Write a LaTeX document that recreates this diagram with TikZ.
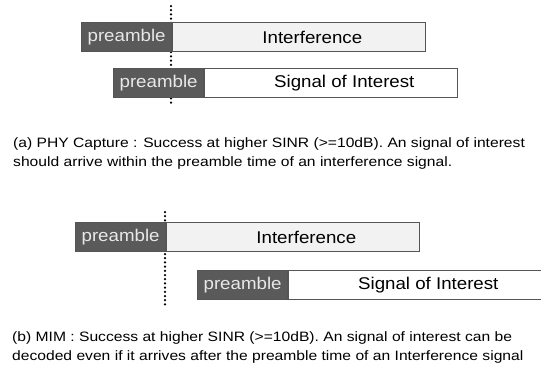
\documentclass[tikz,border=0pt]{standalone}
\usepackage{fontspec}
\setmainfont{Liberation Sans}
\newfontfamily\barsans[FakeStretch=1.1]{Liberation Sans}
\newfontfamily\capsans[FakeStretch=1.15]{Liberation Sans}
\usepackage{tikz}
\usetikzlibrary{positioning}
\definecolor{predark}{RGB}{90,90,90}
\definecolor{pretext}{RGB}{232,232,232}
\definecolor{intfill}{RGB}{242,242,242}
\definecolor{barline}{RGB}{85,85,85}

\tikzset{
  bar/.style={draw=barline, line width=1.2pt, minimum height=29pt, inner sep=0pt,
    font=\barsans\fontsize{17}{19}\selectfont},
  pre/.style={bar, fill=predark, text=pretext, minimum width=90pt},
  intf/.style={bar, fill=intfill, minimum width=253pt},
  soi/.style={bar, fill=white, minimum width=253pt},
  dotline/.style={line width=2.5pt, line cap=round, dash pattern=on 0pt off 4.2pt},
  caption/.style={anchor=north west, align=left, inner sep=0pt,
    font=\capsans\fontsize{13.6}{19}\selectfont}
}
% body text sits a little right of the box centre
\newcommand{\bodytxt}[1]{\hspace*{26pt}#1}

\begin{document}
\begin{tikzpicture}[x=1pt,y=-1pt]
  \useasboundingbox (0,0) rectangle (541,368);

  % capture lines first, so the bars cover them
  \coordinate (capTop) at (171,6);
  \coordinate (capBot) at (171,105);
  \draw[dotline] (capTop) -- (capBot);
  \coordinate (mimTop) at (165,212);
  \coordinate (mimBot) at (165,305);
  \draw[dotline] (mimTop) -- (mimBot);

  % (a) PHY capture
  \node[pre, anchor=north west] (preIa) at (81,22) {preamble};
  \node[intf, right=0pt of preIa] (intfa) {\bodytxt{Interference}};
  \node[pre, anchor=north west] (preSa) at (113,68) {preamble};
  \node[soi, right=0pt of preSa] (soia) {\bodytxt{Signal of Interest}};

  \node[caption] (capa) at (13,137) {(a) PHY Capture : Success at higher SINR (>=10dB). An signal of interest\\
    should arrive within the preamble time of an interference signal.};

  % (b) MIM
  \node[pre, anchor=north west] (preIb) at (75,222) {preamble};
  \node[intf, right=0pt of preIb] (intfb) {\bodytxt{Interference}};
  \node[pre, anchor=north west] (preSb) at (197,270) {preamble};
  \node[soi, right=0pt of preSb] (soib) {\bodytxt{Signal of Interest}};

  \node[caption] (capb) at (12,331) {(b) MIM : Success at higher SINR (>=10dB). An signal of interest can be\\
    decoded even if it arrives after the preamble time of an Interference signal};
\end{tikzpicture}
\end{document}
